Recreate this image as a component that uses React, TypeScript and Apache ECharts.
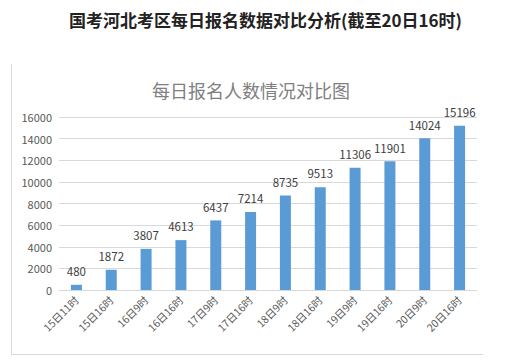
import React, { useEffect, useRef } from "react";
import * as echarts from "echarts";

const categories = ["15日11时", "15日16时", "16日9时", "16日16时", "17日9时", "17日16时", "18日9时", "18日16时", "19日9时", "19日16时", "20日9时", "20日16时"];
const values = [480, 1872, 3807, 4613, 6437, 7214, 8735, 9513, 11306, 11901, 14024, 15196];
const mainTitle = "国考河北考区每日报名数据对比分析(截至20日16时)";
const chartTitle = "每日报名人数情况对比图";

export default function App() {
  const ref = useRef<HTMLDivElement>(null);
  useEffect(() => {
    document.body.style.margin = "0";
    const chart = echarts.init(ref.current!, null, { renderer: "svg" });
    const font = "'Noto Sans CJK SC', 'Noto Sans', sans-serif";
    chart.setOption({
      animation: false,
      backgroundColor: "#ffffff",
      textStyle: { fontFamily: font },
      title: [
        {
          text: mainTitle,
          left: "center",
          top: 6,
          textStyle: { fontSize: 17, fontWeight: "bold", color: "#222222", fontFamily: font },
        },
        {
          text: chartTitle,
          left: 147,
          top: 76,
          textStyle: { fontSize: 18, fontWeight: "normal", color: "#808080", fontFamily: font },
        },
      ],
      graphic: [
        { type: "line", shape: { x1: 11.5, y1: 64, x2: 11.5, y2: 354.5 }, style: { stroke: "#d9d9d9", lineWidth: 1 } },
        { type: "line", shape: { x1: 11.5, y1: 354.5, x2: 483, y2: 354.5 }, style: { stroke: "#d9d9d9", lineWidth: 1 } },
      ],
      grid: { left: 59, right: 54, top: 117, bottom: 70 },
      xAxis: {
        type: "category",
        data: categories,
        axisLine: { lineStyle: { color: "#d9d9d9" } },
        axisTick: { show: false },
        axisLabel: { rotate: 45, fontSize: 10.5, color: "#595959", interval: 0, margin: 8 },
      },
      yAxis: {
        type: "value",
        min: 0,
        max: 16000,
        interval: 2000,
        axisLine: { show: false },
        axisTick: { show: false },
        splitLine: { lineStyle: { color: "#d9d9d9" } },
        axisLabel: { fontSize: 11, color: "#595959", margin: 7, formatter: (v: number) => String(v) },
      },
      series: [
        {
          type: "bar",
          data: values,
          barWidth: 11,
          itemStyle: { color: "#5b9bd5" },
          label: { show: true, position: "top", fontSize: 11.5, color: "#404040", distance: 8 },
        },
      ],
    });
    return () => chart.dispose();
  }, []);
  return <div ref={ref} style={{ position: "absolute", left: 0, top: 0, width: 531, height: 360 }} />;
}
